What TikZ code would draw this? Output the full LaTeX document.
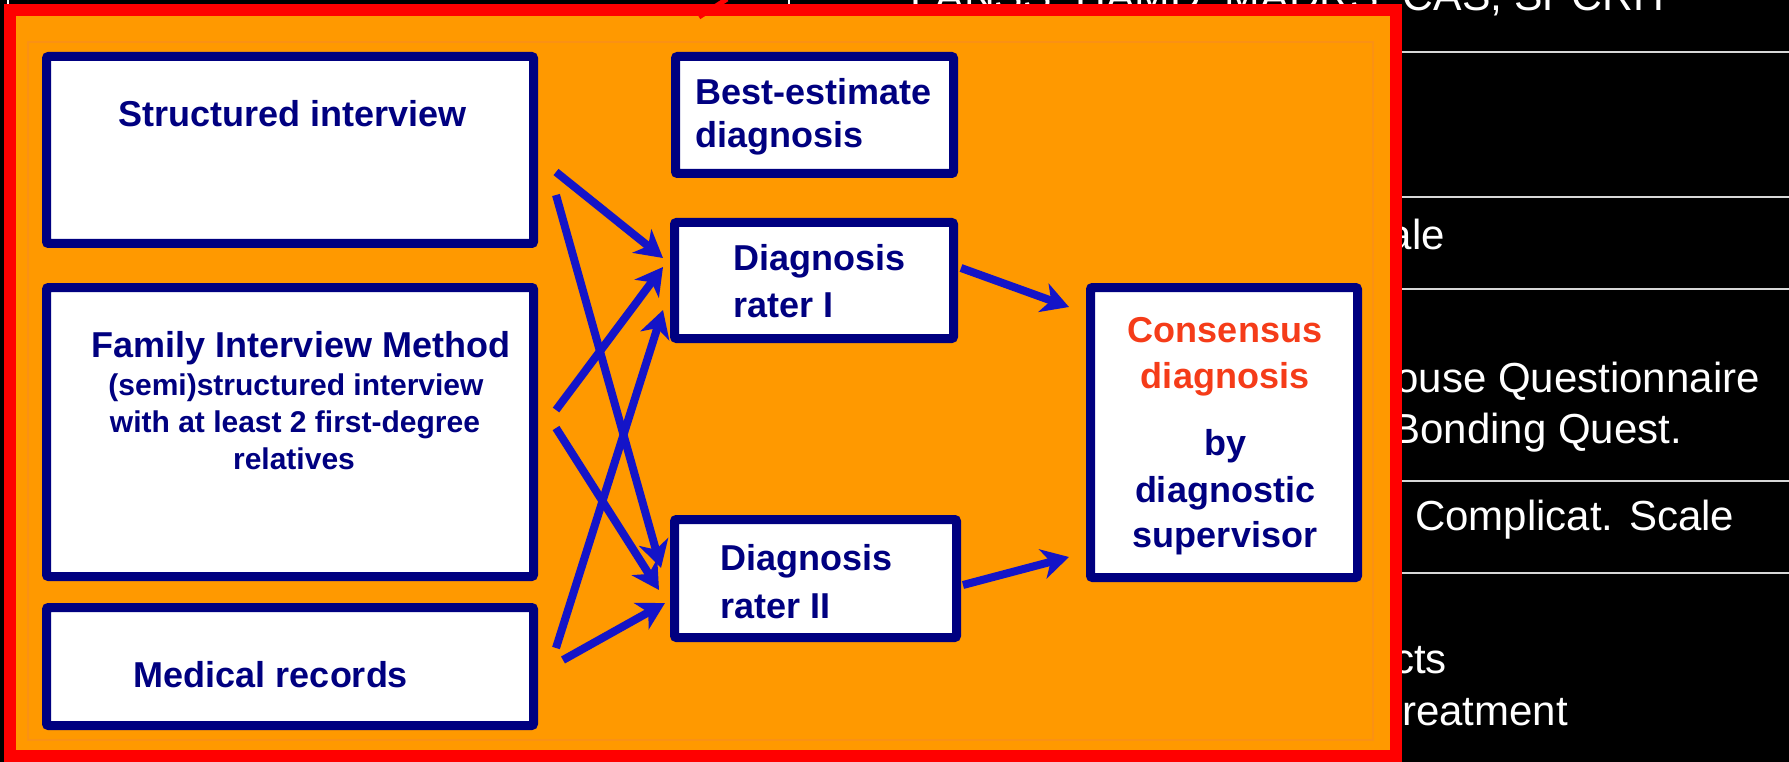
\documentclass[tikz,border=0pt]{standalone}
\usepackage{fontspec}
\setmainfont{Liberation Sans}
\usetikzlibrary{arrows.meta}
\definecolor{navy}{RGB}{0,0,128}
\definecolor{arrowblue}{RGB}{20,20,200}
\definecolor{orng}{RGB}{255,153,0}
\definecolor{orngline}{RGB}{250,145,20}
\definecolor{consred}{RGB}{245,60,25}
\definecolor{linegray}{RGB}{215,215,215}
\begin{document}
\begin{tikzpicture}[x=1pt,y=-1pt,
  box/.style={draw=navy, line width=9pt, fill=white, rounded corners=2pt, inner sep=0pt},
  ttl/.style={font=\bfseries\fontsize{36}{40}\selectfont, text=navy, inner sep=0pt},
  sub/.style={font=\bfseries\fontsize{30}{34}\selectfont, text=navy, inner sep=0pt},
  redt/.style={font=\bfseries\fontsize{36}{40}\selectfont, text=consred, inner sep=0pt},
  wtext/.style={font=\fontsize{42}{48}\selectfont, text=white, inner sep=0pt},
  hline/.style={draw=linegray, line width=2.5pt},
  arr/.style={draw=arrowblue, line width=8pt, -{Stealth[length=27pt,width=30pt,inset=8pt]}}
]
\useasboundingbox (0,0) rectangle (1789,762);
\fill[black] (0,0) rectangle (1789,762);

% background slide (right side)
\node[wtext, font=\fontsize{42.7}{48}\selectfont, anchor=base west] (top) at (910,11) {PANSS: HAMD: MADRS: CAS, SPCRH};
\draw[white, line width=2pt] (789,0) -- (789,12);
\draw[white, line width=1.5pt] (8,0) -- (8,5);
\foreach \yy in {52,197,289,481,573} \draw[hline] (1396,\yy) -- (1789,\yy);
\node[wtext, anchor=base east] (w1) at (1445,250) {ale};
\node[wtext, anchor=base east] (w2) at (1760,392) {ouse Questionnaire};
\node[wtext, anchor=base east] (w3) at (1682,443) {Bonding Quest.};
\node[wtext, anchor=base west] (w4) at (1415,530) {Complicat. Scale};
\node[wtext, anchor=base east] (w5) at (1447,673) {cts};
\node[wtext, anchor=base east] (w6) at (1568,725) {reatment};

% frame
\draw[red, line width=12pt, fill=orng] (10,10) rectangle (1396,756);
\draw[red, line width=5pt] (699,17) -- (727,-1);
\draw[orngline, line width=1.5pt] (28,42) rectangle (1373,740);

% boxes
\node[box, minimum width=487pt, minimum height=187pt] (si) at (290,150) {};
\node[box, minimum width=487pt, minimum height=289pt] (fam) at (290,432) {};
\node[box, minimum width=487pt, minimum height=118pt] (med) at (290,666.5) {};
\node[box, minimum width=278pt, minimum height=117pt] (best) at (814.5,115) {};
\node[box, minimum width=279pt, minimum height=116pt] (r1) at (814,280.5) {};
\node[box, minimum width=282pt, minimum height=118pt] (r2) at (815.5,578.5) {};
\node[box, minimum width=267pt, minimum height=290pt] (cons) at (1224,432.5) {};

% texts
\node[ttl, anchor=base] (tsi) at (293,127) {Structured interview};
\node[ttl, anchor=base] (tf1) at (301,357) {Family Interview Method};
\node[sub, anchor=base] (tf2) at (296,395) {(semi)structured interview};
\node[sub, anchor=base] (tf3) at (295,432) {with at least 2 first-degree};
\node[sub, anchor=base] (tf4) at (294,469) {relatives};
\node[ttl, anchor=base] (tmed) at (271,687) {Medical records};
\node[ttl, anchor=base west] (tb1) at (695,105) {Best-estimate};
\node[ttl, anchor=base west] (tb2) at (695,148) {diagnosis};
\node[ttl, anchor=base west] (tr11) at (733,270) {Diagnosis};
\node[ttl, anchor=base west] (tr12) at (733,317) {rater I};
\node[ttl, anchor=base west] (tr21) at (720,570) {Diagnosis};
\node[ttl, anchor=base west] (tr22) at (720,618) {rater II};
\node[redt, anchor=base] (tc1) at (1225,342) {Consensus};
\node[redt, anchor=base] (tc2) at (1225,388) {diagnosis};
\node[ttl, anchor=base] (tc3) at (1225,455) {by};
\node[ttl, anchor=base] (tc4) at (1225,502) {diagnostic};
\node[ttl, anchor=base] (tc5) at (1225,547) {supervisor};

% arrow end points
\coordinate (a1s) at (556,172); \coordinate (a1e) at (663,258);
\coordinate (a2s) at (556,195); \coordinate (a2e) at (661,568);
\coordinate (a3s) at (556,410); \coordinate (a3e) at (663,267);
\coordinate (a4s) at (556,428); \coordinate (a4e) at (659,590);
\coordinate (a5s) at (556,648); \coordinate (a5e) at (663,310);
\coordinate (a6s) at (563,660); \coordinate (a6e) at (665,603);
\coordinate (a7s) at (961,268); \coordinate (a7e) at (1069,307);
\coordinate (a8s) at (963,585); \coordinate (a8e) at (1069,557);

\draw[arr] (a1s) -- (a1e);
\draw[arr] (a2s) -- (a2e);
\draw[arr] (a3s) -- (a3e);
\draw[arr] (a4s) -- (a4e);
\draw[arr] (a5s) -- (a5e);
\draw[arr] (a6s) -- (a6e);
\draw[arr] (a7s) -- (a7e);
\draw[arr] (a8s) -- (a8e);
\end{tikzpicture}
\end{document}
